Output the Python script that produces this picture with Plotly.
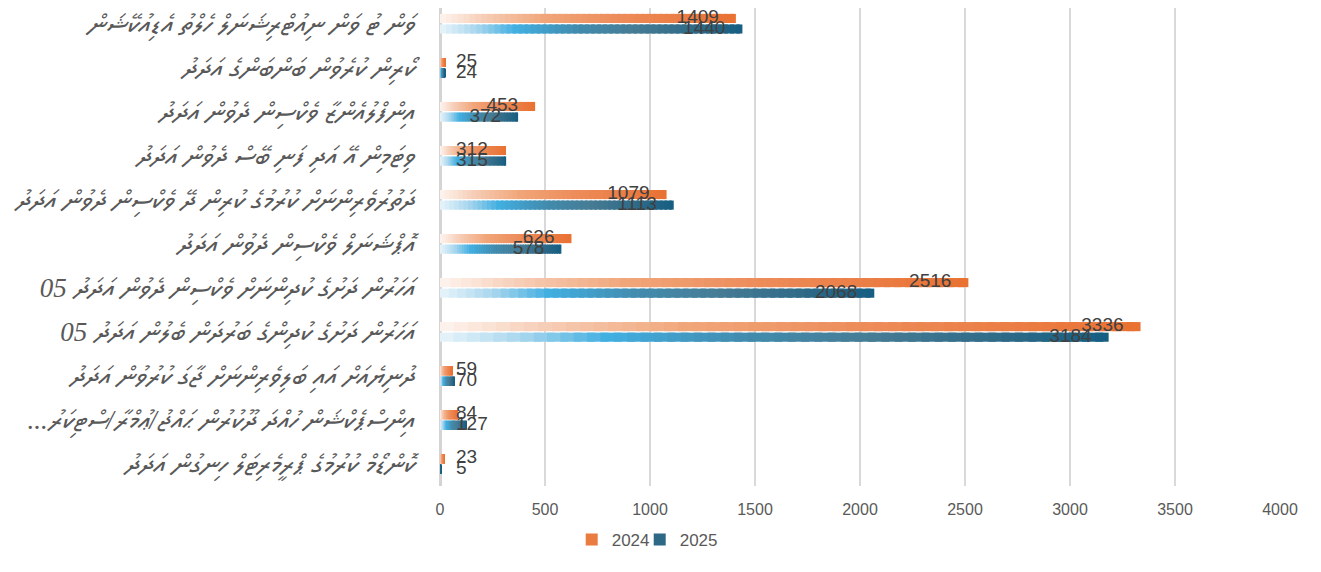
import plotly.graph_objects as go

# ---------------- data ----------------
categories = [
    "ވަން ޓު ވަން ނިއުޓްރިޝަނަލް ހެލްތު އެޑިއުކޭޝަން",
    "ކޯރިން ކުރެވުން ބަންބަންގެ އަދަދު",
    "އިންފްލުއެންޒާ ވެކްސިން ދެވުން އަދަދު",
    "ވިޓަމިން އޭ އަދި ފަނި ބޭސް ދެވުން އަދަދު",
    "ދަތުރުވެރިންނަށް ކުރުމުގެ ކުރިން ދޭ ވެކްސިން ދެވުން އަދަދު",
    "އޮޕްޝަނަލް ވެކްސިން ދެވުން އަދަދު",
    "05 އަހަރުން ދަށުގެ ކުދިންނަށް ވެކްސިން ދެވުން އަދަދު",
    "05 އަހަރުން ދަށުގެ ކުދިންގެ ބަރުދަން ބެލުން އަދަދު",
    "ދުނިޔެއަށް އައި ބަލިވެރިންނަށް ޖާގަ ކުރުވުން އަދަދު",
    "...އިންސްޕެކްޝަން ހުއްދަ ދޫކުރުން ޙައްޖު/ޢުމްރާ/ސްޓިކަރު",
    "ކޮންޑޯމް ކުރުމުގެ ޕްރީމެރިޓަލް ހިނގުން އަދަދު",
]
years = ["2024", "2025"]
values_2024 = [1409, 25, 453, 312, 1079, 626, 2516, 3336, 59, 84, 23]
values_2025 = [1440, 24, 372, 315, 1113, 578, 2068, 3184, 70, 127, 5]
x_ticks = [0, 500, 1000, 1500, 2000, 2500, 3000, 3500, 4000]

# ---------------- style ----------------
stops = {
    "2024": [(0.00, (253, 244, 239)), (0.15, (246, 205, 182)), (0.35, (241, 166, 122)),
             (0.60, (237, 140, 90)), (1.00, (233, 113, 50))],
    "2025": [(0.00, (232, 244, 250)), (0.12, (170, 215, 238)), (0.25, (66, 175, 225)),
             (0.45, (66, 140, 175)), (0.65, (70, 123, 148)), (0.85, (45, 105, 135)),
             (1.00, (21, 94, 130))],
}
legend_of = {"2024": "legend", "2025": "legend2"}
N_SEG = 50


def grad_color(year, t):
    st = stops[year]
    for (p0, c0), (p1, c1) in zip(st[:-1], st[1:]):
        if p0 <= t <= p1:
            f = (t - p0) / (p1 - p0)
            c = [round(a + (b - a) * f) for a, b in zip(c0, c1)]
            return "rgb(%d,%d,%d)" % tuple(c)
    return "rgb(%d,%d,%d)" % st[-1][1]


fig = go.Figure()

series = {"2024": values_2024, "2025": values_2025}
for yr in years:
    vals = series[yr]
    for k in range(N_SEG):
        t = (k + 0.5) / N_SEG
        # each slice overlaps the next one a little so no hairline seams show
        widths = [v / N_SEG * (1.6 if k < N_SEG - 1 else 1.0) for v in vals]
        fig.add_trace(go.Bar(
            y=categories,
            x=widths,
            base=[v * k / N_SEG for v in vals],
            orientation="h",
            offsetgroup=yr,
            name=yr,
            legend=legend_of[yr],
            legendgroup=yr,
            showlegend=(k == int(N_SEG * 0.85)),
            marker=dict(color=grad_color(yr, t), line=dict(width=0)),
            hoverinfo="skip",
        ))

# data labels
PX_PER_UNIT = 840 / 4000
for yr in years:
    vals = series[yr]
    xs, pos = [], []
    for v in vals:
        if v >= 330:
            xs.append(v - 17 / PX_PER_UNIT)
            pos.append("middle left")
        else:
            xs.append(16 / PX_PER_UNIT)
            pos.append("middle right")
    fig.add_trace(go.Scatter(
        y=categories, x=xs, mode="text", text=[str(v) for v in vals],
        textposition=pos, orientation="h", offsetgroup=yr,
        textfont=dict(family="Liberation Sans, Arial, sans-serif", size=19, color="#404040"),
        showlegend=False, hoverinfo="skip", cliponaxis=False,
    ))

legend_style = dict(orientation="h", xanchor="left", y=-0.113, yanchor="middle",
                    font=dict(size=17, color="#595959"), itemwidth=30, bgcolor="rgba(0,0,0,0)")

# the page body adds an 8px offset, so the figure is drawn 8px smaller
fig.update_layout(
    width=1313, height=564,
    margin=dict(l=432, r=41, t=0, b=86, autoexpand=False),
    paper_bgcolor="white", plot_bgcolor="white",
    barmode="group", bargap=0.52, bargroupgap=0.14,
    scattermode="group", scattergap=0.52,
    font=dict(family="Liberation Sans, Arial, sans-serif", size=16, color="#595959"),
    showlegend=True,
    legend=dict(x=0.1568, **legend_style),
    legend2=dict(x=0.1568 + 68 / 840, **legend_style),
    xaxis=dict(range=[0, 4000], tickvals=x_ticks, ticktext=[str(t) for t in x_ticks],
               showgrid=True, gridcolor="#d9d9d9", gridwidth=2,
               zeroline=True, zerolinecolor="#d4d4d4", zerolinewidth=3,
               showline=False, ticks="", ticklabelstandoff=12, automargin=False,
               tickfont=dict(size=16, color="#595959"), fixedrange=True),
    yaxis=dict(type="category", range=[10.5, -0.357], showgrid=False, zeroline=False,
               showline=False, ticks="", ticklabelstandoff=25, automargin=False,
               tickfont=dict(family="Liberation Serif, Noto Sans Thaana, MV Boli, Faruma, DejaVu Sans, serif",
                             size=27, style="italic", color="#595959")),
    shapes=[dict(type="line", xref="paper", yref="paper", x0=1.0429, x1=1.0429,
                 y0=-0.2, y1=1.0, line=dict(color="#d9d9d9", width=2))],
)

fig.write_html("out.html")
